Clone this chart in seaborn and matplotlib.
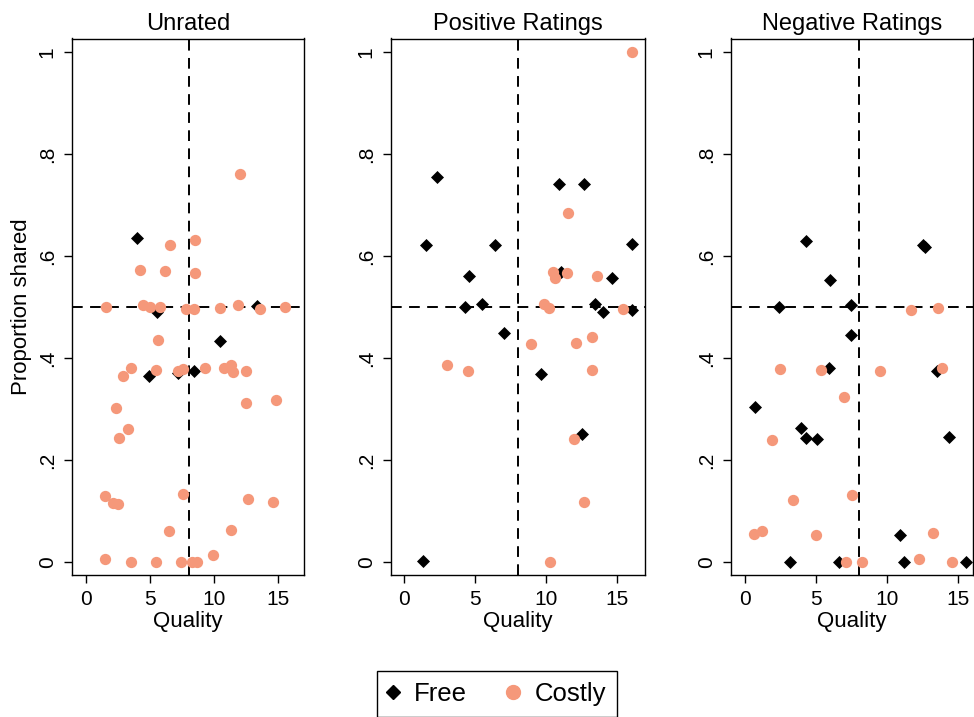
import pandas as pd
import seaborn as sns
import matplotlib.pyplot as plt
import numpy as np

# data
panels = ['Unrated', 'Positive Ratings', 'Negative Ratings']

unrated_free_x = [3.98, 5.55, 13.33, 10.42, 4.87, 7.2, 8.44]
unrated_free_y = [0.636, 0.49, 0.502, 0.433, 0.365, 0.37, 0.375]
unrated_costly_x = [11.98, 6.56, 8.49, 4.24, 6.17, 8.49, 1.56, 4.43, 4.95, 5.78, 7.81, 8.44,
                    10.44, 11.88, 13.54, 15.5, 5.6, 3.52, 2.89, 5.44, 7.16, 7.55, 9.24, 10.75,
                    11.33, 11.46, 12.5, 12.5, 14.82, 2.34, 3.28, 2.58, 1.46, 2.06, 2.45, 7.55,
                    12.6, 14.55, 6.48, 11.33, 1.48, 3.54, 5.42, 7.37, 8.23, 8.67, 9.87]
unrated_costly_y = [0.761, 0.621, 0.632, 0.573, 0.570, 0.567, 0.50, 0.503, 0.50, 0.50, 0.497, 0.496,
                    0.498, 0.503, 0.497, 0.50, 0.436, 0.380, 0.365, 0.376, 0.374, 0.378, 0.380, 0.380,
                    0.386, 0.373, 0.375, 0.312, 0.317, 0.303, 0.261, 0.243, 0.129, 0.117, 0.115, 0.133,
                    0.124, 0.118, 0.062, 0.064, 0.006, 0.0, 0.0, 0.0, 0.0, 0.0, 0.014]

positive_free_x = [2.28, 10.92, 12.63, 1.55, 6.38, 16.0, 4.55, 11.03, 14.62, 4.23, 5.47, 13.45,
                   14.01, 16.03, 7.0, 9.65, 12.49, 1.31]
positive_free_y = [0.755, 0.740, 0.741, 0.622, 0.621, 0.624, 0.561, 0.569, 0.557, 0.50, 0.506, 0.505,
                   0.49, 0.495, 0.45, 0.368, 0.251, 0.002]
positive_costly_x = [16.0, 11.53, 10.44, 10.6, 11.43, 13.54, 9.84, 10.19, 15.37, 8.92, 12.06, 13.22,
                     3.0, 4.51, 13.19, 11.92, 12.63, 10.26]
positive_costly_y = [1.0, 0.684, 0.569, 0.557, 0.566, 0.561, 0.506, 0.499, 0.497, 0.427, 0.429, 0.442,
                     0.387, 0.375, 0.376, 0.241, 0.118, 0.0]

negative_free_x = [4.3, 12.55, 12.7, 5.96, 2.39, 7.49, 7.49, 5.89, 13.52, 0.68, 3.97, 4.27, 5.09,
                   14.37, 10.94, 3.19, 6.62, 11.2, 15.54]
negative_free_y = [0.630, 0.622, 0.617, 0.553, 0.50, 0.503, 0.445, 0.381, 0.374, 0.305, 0.263, 0.244,
                   0.241, 0.246, 0.054, 0.0, 0.0, 0.0, 0.0]
negative_costly_x = [11.67, 13.59, 2.49, 5.35, 9.53, 13.85, 6.99, 1.92, 3.4, 7.51, 0.66, 1.22, 4.98,
                     13.24, 7.09, 8.26, 12.25, 14.56]
negative_costly_y = [0.494, 0.499, 0.379, 0.376, 0.375, 0.381, 0.324, 0.240, 0.122, 0.132, 0.055, 0.061,
                     0.054, 0.058, 0.0, 0.0, 0.006, 0.0]

quality_cut = 8
share_cut = 0.5

rows = []
series = [
    ('Unrated', 'Free', unrated_free_x, unrated_free_y),
    ('Unrated', 'Costly', unrated_costly_x, unrated_costly_y),
    ('Positive Ratings', 'Free', positive_free_x, positive_free_y),
    ('Positive Ratings', 'Costly', positive_costly_x, positive_costly_y),
    ('Negative Ratings', 'Free', negative_free_x, negative_free_y),
    ('Negative Ratings', 'Costly', negative_costly_x, negative_costly_y),
]
for p, t, xs, ys in series:
    for x, y in zip(xs, ys):
        rows.append({'panel': p, 'type': t, 'quality': x, 'share': y})
df = pd.DataFrame(rows)

sns.set_style('white')
plt.rcParams['font.family'] = ['Liberation Sans', 'DejaVu Sans']
plt.rcParams['text.color'] = 'black'
plt.rcParams['axes.labelcolor'] = 'black'
plt.rcParams['xtick.color'] = 'black'
plt.rcParams['ytick.color'] = 'black'

salmon = '#F5987A'

fig = plt.figure(figsize=(9.74, 7.17), dpi=100)
W, H = 974, 717
# pixel boxes of the three plot regions (left, right)
boxes = [(72, 304), (391, 645), (731, 973)]
xlims = [(-1.1, 17.0), (-0.95, 16.95), (-0.98, 16.05)]
top, bottom = 38.5, 575

for i, name in enumerate(panels):
    l, r = boxes[i]
    ax = fig.add_axes([l / W, 1 - bottom / H, (r - l) / W, (bottom - top) / H])
    sub = df[df['panel'] == name]
    ax.axvline(quality_cut, color='black', lw=1.4, ls=(0, (5.5, 3.8)), zorder=1)
    ax.axhline(share_cut, color='black', lw=1.4, ls=(0, (5.5, 3.8)), zorder=1)
    sns.scatterplot(data=sub[sub['type'] == 'Free'], x='quality', y='share', marker='D',
                    color='black', s=44, linewidth=0, ax=ax, zorder=2)
    sns.scatterplot(data=sub[sub['type'] == 'Costly'], x='quality', y='share', marker='o',
                    color=salmon, s=66, linewidth=0, ax=ax, zorder=3)
    ax.set_xlim(*xlims[i])
    ax.set_ylim(-0.025, 1.026)
    ax.set_xticks([0, 5, 10, 15])
    ax.set_yticks([0, 0.2, 0.4, 0.6, 0.8, 1])
    ax.set_yticklabels(['0', '.2', '.4', '.6', '.8', '1'], rotation=90, va='center')
    ax.tick_params(axis='both', direction='out', length=6, width=1, labelsize=15,
                   color='black', left=True, bottom=True, pad=5)
    for s in ax.spines.values():
        s.set_color('black')
        s.set_linewidth(1.0)
    ax.set_title(name, fontsize=17, pad=6)
    ax.set_xlabel('Quality', fontsize=16, labelpad=1)
    if i == 0:
        ax.set_ylabel('Proportion shared', fontsize=16, labelpad=4)
    else:
        ax.set_ylabel('')

handles = [
    plt.Line2D([], [], marker='D', color='black', ls='', markersize=7),
    plt.Line2D([], [], marker='o', color=salmon, ls='', markersize=10),
]
leg = fig.legend(handles, ['Free', 'Costly'], loc='upper center', bbox_to_anchor=(0.51, 1 - 671 / H),
                 ncol=2, fontsize=18.5, frameon=True, fancybox=False, framealpha=1, edgecolor='black',
                 handlelength=0.4, handletextpad=0.62, columnspacing=1.6, borderpad=0.42,
                 borderaxespad=0)
leg.get_frame().set_linewidth(1.0)

fig.savefig('out.png', dpi=100)
